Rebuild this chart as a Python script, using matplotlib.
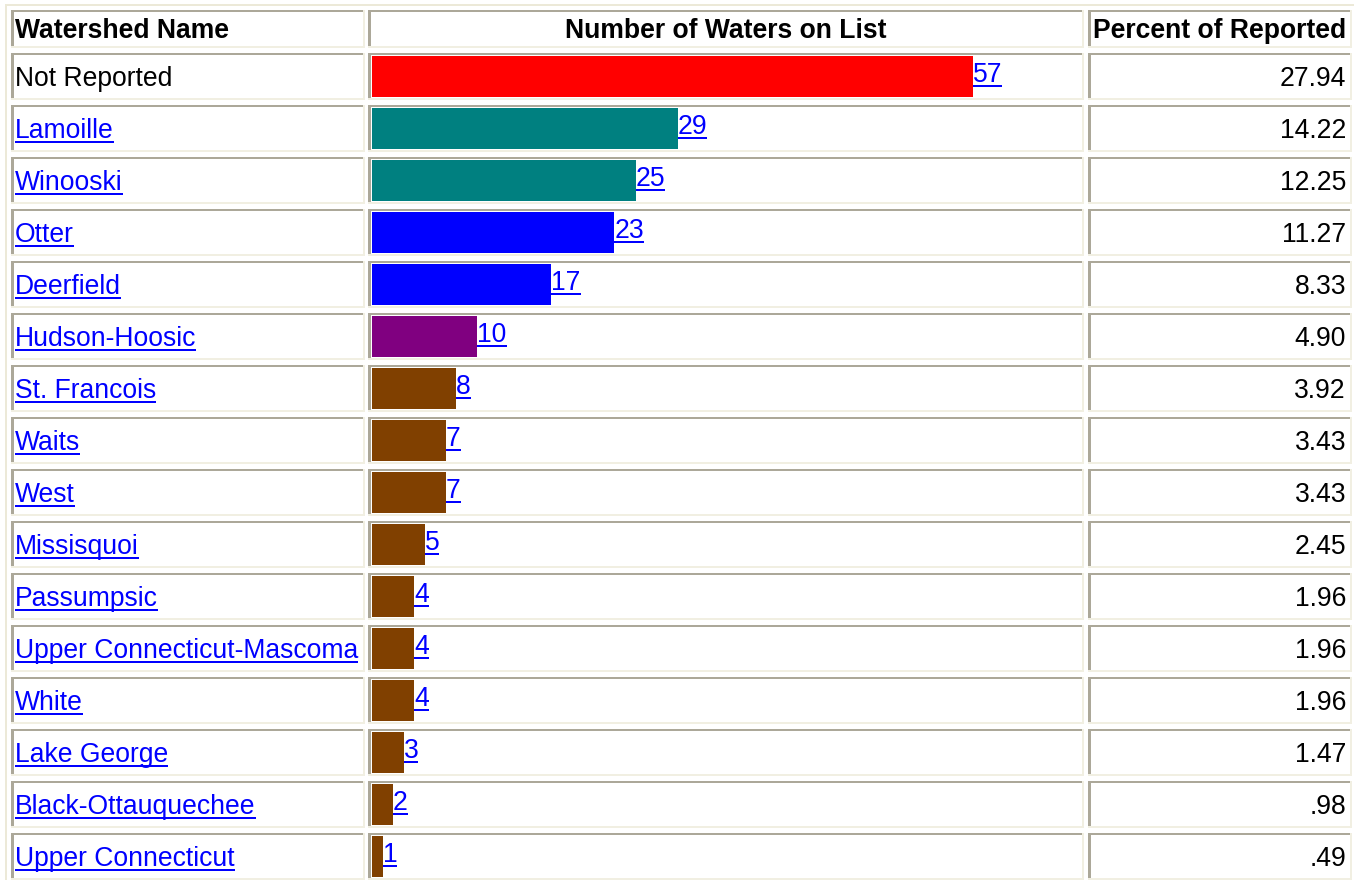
import numpy as np
import matplotlib.pyplot as plt
from matplotlib.patches import Rectangle

names = ["Not Reported", "Lamoille", "Winooski", "Otter", "Deerfield",
         "Hudson-Hoosic", "St. Francois", "Waits", "West", "Missisquoi",
         "Passumpsic", "Upper Connecticut-Mascoma", "White", "Lake George",
         "Black-Ottauquechee", "Upper Connecticut"]
counts = [57, 29, 25, 23, 17, 10, 8, 7, 7, 5, 4, 4, 4, 3, 2, 1]
percents = [27.94, 14.22, 12.25, 11.27, 8.33, 4.90, 3.92, 3.43, 3.43, 2.45,
            1.96, 1.96, 1.96, 1.47, 0.98, 0.49]
bar_colors = ["#ff0000", "#008080", "#008080", "#0000ff", "#0000ff", "#800080"] + ["#804000"] * 10
is_link = [False] + [True] * 15
headers = ["Watershed Name", "Number of Waters on List", "Percent of Reported"]

W, H = 1354, 880
DARK = "#aca899"
LIGHT = "#f1efe2"
LINK = "#0000ff"
FS = 19.1
plt.rcParams['font.family'] = ['Liberation Sans', 'DejaVu Sans']

fig = plt.figure(figsize=(W / 100, H / 100), dpi=100)
# pixel axes for the table frame and the text
ax = fig.add_axes([0, 0, 1, 1])
ax.set_xlim(0, W)
ax.set_ylim(H, 0)
ax.axis('off')

# bar axes: x in counts, y in row index
px_per_unit = 10.54
bar_x0 = 372
row_top, row_pitch, row_h = 52.7, 52, 47.3
row_c0 = row_top + row_h / 2
bx = fig.add_axes([0, 0, 1, 1])
bx.set_xlim(-bar_x0 / px_per_unit, (W - bar_x0) / px_per_unit)
bx.set_ylim((H - row_c0) / row_pitch, -row_c0 / row_pitch)
bx.axis('off')
bx.patch.set_alpha(0)

cols = [(11, 365), (368, 1084), (1088, 1352)]


def cell(x0, y0, x1, y1):
    ax.add_patch(Rectangle((x0, y0), x1 - x0, 2, color=DARK, lw=0))
    ax.add_patch(Rectangle((x0, y0), 2.5, y1 - y0, color=DARK, lw=0))
    ax.add_patch(Rectangle((x0, y1 - 2), x1 - x0, 2, color=LIGHT, lw=0))
    ax.add_patch(Rectangle((x1 - 2, y0), 2, y1 - y0, color=LIGHT, lw=0))


# outer table border
ax.add_patch(Rectangle((5, 4), W - 5, 2, color="#ece9d8", lw=0))
ax.add_patch(Rectangle((5, 4), 2, H - 4, color="#ece9d8", lw=0))

# header
for (x0, x1) in cols:
    cell(x0, 10, x1, 48)
ax.text(15, 29 + 9.5, headers[0], fontsize=FS, fontweight='bold', va='baseline', ha='left')
ax.text((cols[1][0] + cols[1][1]) / 2, 29 + 9.5, headers[1], fontsize=FS, fontweight='bold',
        va='baseline', ha='center')
ax.text(1346, 29 + 9.5, headers[2], fontsize=FS, fontweight='bold', va='baseline', ha='right')

rows = np.arange(len(names))
bx.barh(rows, counts, height=41 / row_pitch, left=0, color=bar_colors)

links = []
for i in rows:
    y0 = row_top + row_pitch * i
    y1 = y0 + row_h
    for (x0, x1) in cols:
        cell(x0, y0, x1, y1)
    yc = (y0 + y1) / 2
    t = ax.text(15, yc + 9.5, names[i], fontsize=FS, va='baseline', ha='left',
                color=LINK if is_link[i] else 'black')
    if is_link[i]:
        links.append((t, ax))
    ax.text(1346, yc + 9.5, f"{percents[i]:.2f}".lstrip("0"), fontsize=FS,
            va='baseline', ha='right')
    n = bx.text(counts[i], i + 5.6 / row_pitch, str(counts[i]), fontsize=FS,
                va='baseline', ha='left', color=LINK)
    links.append((n, bx))

# underline the link texts
fig.canvas.draw()
r = fig.canvas.get_renderer()
inv = ax.transData.inverted()
for t, a in links:
    bb = t.get_window_extent(renderer=r)
    (xa, _), (xb, _) = inv.transform([[bb.x0, bb.y0], [bb.x1, bb.y0]])
    base = inv.transform(a.transData.transform(t.get_position()))[1]
    ax.add_patch(Rectangle((xa, base + 3.2), xb - xa, 1.8, color=LINK, lw=0))

fig.savefig("out.png", dpi=100, facecolor='white')
